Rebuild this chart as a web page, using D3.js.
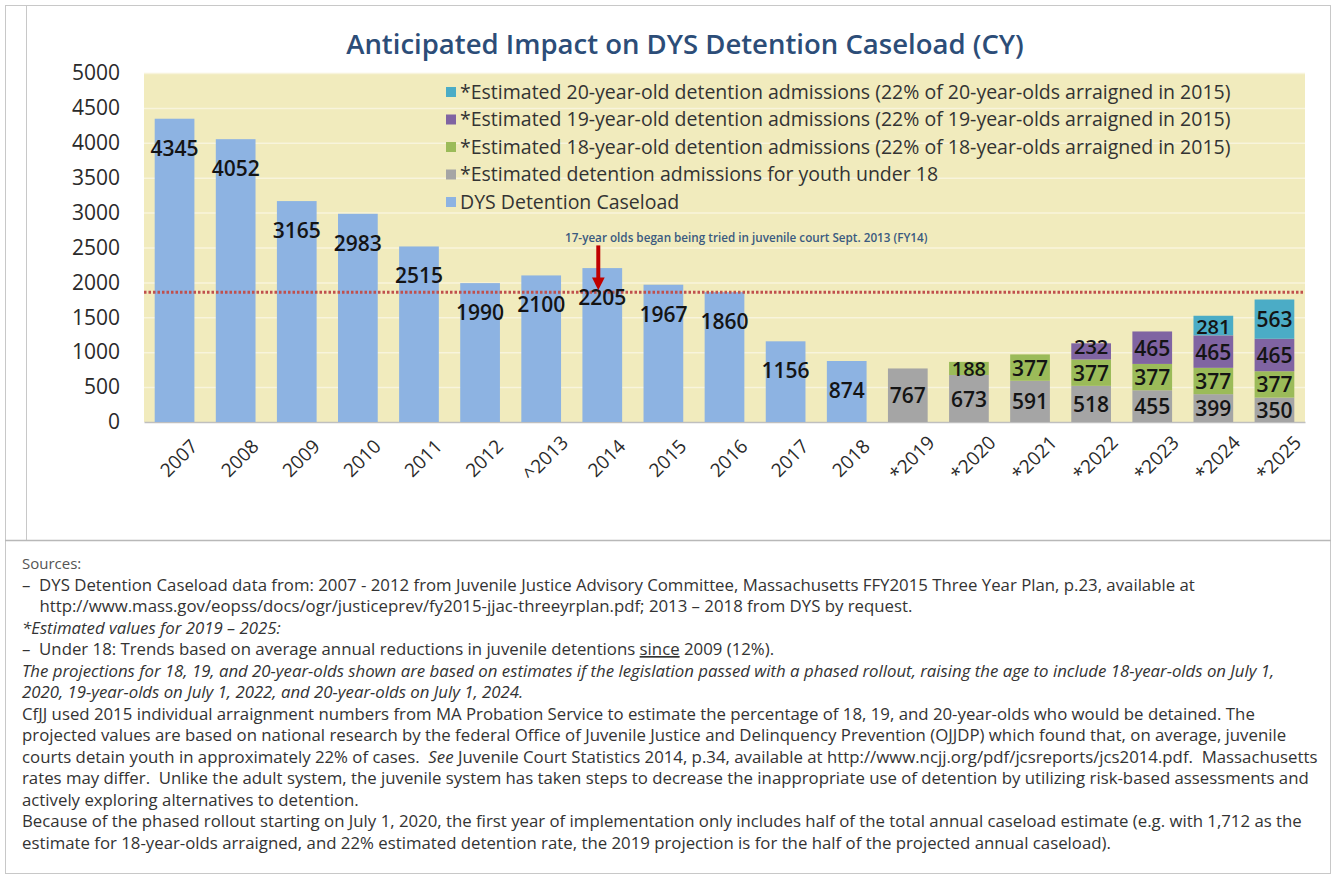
<!DOCTYPE html>
<html>
<head>
<meta charset="utf-8">
<script src="https://cdn.jsdelivr.net/npm/d3@7"></script>
<style>
  body { margin: 0; background: #fff; }
  svg { display: block; font-family: "Open Sans", sans-serif; }
</style>
</head>
<body>
<svg id="chart" width="1338" height="875"></svg>
<script>
// chart data
var years = ["2007", "2008", "2009", "2010", "2011", "2012", "^2013", "2014", "2015", "2016", "2017", "2018",
  "*2019", "*2020", "*2021", "*2022", "*2023", "*2024", "*2025"];
var caseload = [4345, 4052, 3165, 2983, 2515, 1990, 2100, 2205, 1967, 1860, 1156, 874,
  0, 0, 0, 0, 0, 0, 0];
var under18 = [0, 0, 0, 0, 0, 0, 0, 0, 0, 0, 0, 0, 767, 673, 591, 518, 455, 399, 350];
var age18 = [0, 0, 0, 0, 0, 0, 0, 0, 0, 0, 0, 0, 0, 188, 377, 377, 377, 377, 377];
var age19 = [0, 0, 0, 0, 0, 0, 0, 0, 0, 0, 0, 0, 0, 0, 0, 232, 465, 465, 465];
var age20 = [0, 0, 0, 0, 0, 0, 0, 0, 0, 0, 0, 0, 0, 0, 0, 0, 0, 281, 563];
var yTicks = [0, 500, 1000, 1500, 2000, 2500, 3000, 3500, 4000, 4500, 5000];
var refValue = 1860;

var seriesKeys = ["under18", "age18", "age19", "age20"];
var seriesColors = {under18: "#a5a5a5", age18: "#9bbb59", age19: "#8064a2", age20: "#4bacc6"};
var legendItems = [
  {label: "*Estimated 20-year-old detention admissions (22% of 20-year-olds arraigned in 2015)", color: "#4bacc6"},
  {label: "*Estimated 19-year-old detention admissions (22% of 19-year-olds arraigned in 2015)", color: "#8064a2"},
  {label: "*Estimated 18-year-old detention admissions (22% of 18-year-olds arraigned in 2015)", color: "#9bbb59"},
  {label: "*Estimated detention admissions for youth under 18", color: "#a5a5a5"},
  {label: "DYS Detention Caseload", color: "#8db3e2"}
];

// footnote lines, each a list of [text, style] pieces
var notes = [
  [["Sources:", "gray"]],
  [["\u2013  DYS Detention Caseload data from: 2007 - 2012 from Juvenile Justice Advisory Committee, Massachusetts FFY2015 Three Year Plan, p.23, available at"]],
  [["    http://www.mass.gov/eopss/docs/ogr/justiceprev/fy2015-jjac-threeyrplan.pdf; 2013 \u2013 2018 from DYS by request."]],
  [["*Estimated values for 2019 \u2013 2025:", "i"]],
  [["\u2013  Under 18: Trends based on average annual reductions in juvenile detentions "], ["since", "u"], [" 2009 (12%)."]],
  [["The projections for 18, 19, and 20-year-olds shown are based on estimates if the legislation passed with a phased rollout, raising the age to include 18-year-olds on July 1,", "i"]],
  [["2020, 19-year-olds on July 1, 2022, and 20-year-olds on July 1, 2024.", "i"]],
  [["CfJJ used 2015 individual arraignment numbers from MA Probation Service to estimate the percentage of 18, 19, and 20-year-olds who would be detained. The"]],
  [["projected values are based on national research by the federal Office of Juvenile Justice and Delinquency Prevention (OJJDP) which found that, on average, juvenile"]],
  [["courts detain youth in approximately 22% of cases.  "], ["See", "i"], [" Juvenile Court Statistics 2014, p.34, available at http://www.ncjj.org/pdf/jcsreports/jcs2014.pdf.  Massachusetts"]],
  [["rates may differ.  Unlike the adult system, the juvenile system has taken steps to decrease the inappropriate use of detention by utilizing risk-based assessments and"]],
  [["actively exploring alternatives to detention."]],
  [["Because of the phased rollout starting on July 1, 2020, the first year of implementation only includes half of the total annual caseload estimate (e.g. with 1,712 as the"]],
  [["estimate for 18-year-olds arraigned, and 22% estimated detention rate, the 2019 projection is for the half of the projected annual caseload)."]]
];

var svg = d3.select("#chart");

// frames
svg.append("rect").attr("x", 5.5).attr("y", 5.5).attr("width", 1325).attr("height", 868)
  .attr("fill", "none").attr("stroke", "#c8c8c8");
svg.append("line").attr("x1", 26.5).attr("x2", 26.5).attr("y1", 6).attr("y2", 540)
  .attr("stroke", "#c8c8c8");
svg.append("line").attr("x1", 5).attr("x2", 1331).attr("y1", 540.5).attr("y2", 540.5)
  .attr("stroke", "#b8b8b8").attr("stroke-width", 1.5);

var plot = {left: 144, right: 1305, top: 73, bottom: 422};

var x = d3.scaleBand().domain(years).range([plot.left, plot.right])
  .paddingInner(0.35).paddingOuter(0.175);
var y = d3.scaleLinear().domain([0, 5000]).range([plot.bottom, plot.top]);

// title
svg.append("text").attr("x", 685).attr("y", 54).attr("text-anchor", "middle")
  .attr("font-size", 27.5).attr("font-weight", 600).attr("fill", "#2c4d78")
  .text("Anticipated Impact on DYS Detention Caseload (CY)");

// plot background + gridlines
svg.append("rect").attr("x", plot.left).attr("y", plot.top)
  .attr("width", plot.right - plot.left).attr("height", plot.bottom - plot.top)
  .attr("fill", "#f1ebbd");
svg.append("g").selectAll("line").data(yTicks.slice(1)).join("line")
  .attr("x1", plot.left).attr("x2", plot.right)
  .attr("y1", function(d) { return y(d) + 0.5; }).attr("y2", function(d) { return y(d) + 0.5; })
  .attr("stroke", "#f8f4dc").attr("stroke-width", 1.5);

// y axis
var yAxis = svg.append("g").attr("transform", "translate(" + plot.left + ",0)")
  .call(d3.axisLeft(y).tickValues(yTicks).tickSize(0).tickPadding(24).tickFormat(d3.format("d")));
yAxis.select(".domain").remove();
yAxis.selectAll("text").attr("font-size", 21).attr("fill", "#2a2a2a")
  .attr("font-family", "'Open Sans', sans-serif");

// x axis
var xAxis = svg.append("g").attr("transform", "translate(0," + plot.bottom + ")")
  .call(d3.axisBottom(x).tickSize(0).tickPadding(0));
xAxis.select(".domain").attr("stroke", "#bfbfbf").attr("stroke-width", 1.5);
xAxis.selectAll("text")
  .attr("font-size", 19).attr("fill", "#2a2a2a")
  .attr("font-family", "'Open Sans', sans-serif")
  .attr("text-anchor", "middle")
  .attr("dy", null).attr("y", null)
  .attr("transform", "translate(9,41) rotate(-45)");

// blue caseload bars
var barsG = svg.append("g");
barsG.selectAll("rect.caseload").data(years.map(function(yr, i) { return {yr: yr, v: caseload[i]}; })
  .filter(function(d) { return d.v > 0; }))
  .join("rect").attr("class", "caseload")
  .attr("x", function(d) { return x(d.yr); })
  .attr("width", x.bandwidth())
  .attr("y", function(d) { return y(d.v); })
  .attr("height", function(d) { return y(0) - y(d.v); })
  .attr("fill", "#8db3e2");

// stacked estimates
var table = years.map(function(yr, i) {
  return {yr: yr, under18: under18[i], age18: age18[i], age19: age19[i], age20: age20[i]};
});
var stacked = d3.stack().keys(seriesKeys)(table);
stacked.forEach(function(layer) {
  barsG.selectAll("rect." + layer.key).data(layer.filter(function(d) { return d[1] - d[0] > 0; }))
    .join("rect").attr("class", layer.key)
    .attr("x", function(d) { return x(d.data.yr); })
    .attr("width", x.bandwidth())
    .attr("y", function(d) { return y(d[1]); })
    .attr("height", function(d) { return y(d[0]) - y(d[1]); })
    .attr("fill", seriesColors[layer.key]);
});

// reference dotted line
svg.append("line")
  .attr("x1", plot.left).attr("x2", plot.right)
  .attr("y1", y(refValue)).attr("y2", y(refValue))
  .attr("stroke", "#c0504d").attr("stroke-width", 3).attr("stroke-dasharray", "2.5,2");

// data labels
var labelG = svg.append("g").attr("font-size", 21).attr("font-weight", 600).attr("fill", "#141414")
  .attr("text-anchor", "middle");
labelG.selectAll("text.cl").data(years.map(function(yr, i) { return {yr: yr, v: caseload[i]}; })
  .filter(function(d) { return d.v > 0; }))
  .join("text").attr("class", "cl")
  .attr("x", function(d) { return x(d.yr) + x.bandwidth() / 2; })
  .attr("y", function(d) { return y(d.v) + 37; })
  .text(function(d) { return d.v; });
stacked.forEach(function(layer) {
  labelG.selectAll("text." + layer.key).data(layer.filter(function(d) { return d[1] - d[0] > 0; }))
    .join("text").attr("class", layer.key)
    .attr("x", function(d) { return x(d.data.yr) + x.bandwidth() / 2; })
    .attr("font-size", function(d) { return d[1] - d[0] < 300 ? 20 : null; })
    .attr("y", function(d) {
      // nudge the thin 232 segment up a little so it clears the 377 below
      var mid = (y(d[0]) + y(d[1])) / 2 + 8;
      return (d[1] - d[0] < 300 && layer.key === "age19") ? mid - 5 : mid;
    })
    .text(function(d) { return d[1] - d[0]; });
});

// annotation with arrow
var defs = svg.append("defs");
defs.append("marker").attr("id", "arrow").attr("viewBox", "0 0 10 10")
  .attr("refX", 5).attr("refY", 5).attr("markerWidth", 3.2).attr("markerHeight", 3.2)
  .attr("orient", "auto")
  .append("path").attr("d", "M0,0 L10,5 L0,10 z").attr("fill", "#c00000");
var ax = x("2014") + x.bandwidth() / 2 - 4;
svg.append("line").attr("x1", ax).attr("x2", ax)
  .attr("y1", y(2530)).attr("y2", y(1980))
  .attr("stroke", "#c00000").attr("stroke-width", 4).attr("marker-end", "url(#arrow)");
svg.append("text").attr("x", 565).attr("y", 242)
  .attr("font-size", 11.7).attr("font-weight", 600).attr("fill", "#3a5a80")
  .text("17-year olds began being tried in juvenile court Sept. 2013 (FY14)");

// legend
var legend = svg.append("g").attr("transform", "translate(446,92)");
var li = legend.selectAll("g").data(legendItems).join("g")
  .attr("transform", function(d, i) { return "translate(0," + (i * 27.5) + ")"; });
li.append("rect").attr("x", 0).attr("y", -5).attr("width", 10).attr("height", 10)
  .attr("fill", function(d) { return d.color; });
li.append("text").attr("x", 14).attr("y", 6.5).attr("font-size", 19.5).attr("fill", "#333")
  .text(function(d) { return d.label; });

// footnotes
var noteG = svg.append("g").attr("font-size", 16.8).attr("fill", "#333");
noteG.selectAll("text").data(notes).join("text")
  .attr("x", 22)
  .attr("y", function(d, i) { return 569 + i * 21.5; })
  .attr("xml:space", "preserve")
  .style("white-space", "pre")
  .each(function(line) {
    var t = d3.select(this);
    line.forEach(function(p) {
      var s = t.append("tspan").text(p[0]);
      if (p[1] === "i") s.attr("font-style", "italic");
      if (p[1] === "u") s.attr("text-decoration", "underline");
      if (p[1] === "gray") s.attr("fill", "#555").attr("font-size", 15);
    });
    var w = this.getComputedTextLength();
    if (w > 1300) t.attr("textLength", 1300).attr("lengthAdjust", "spacingAndGlyphs");
  });
</script>
</body>
</html>
